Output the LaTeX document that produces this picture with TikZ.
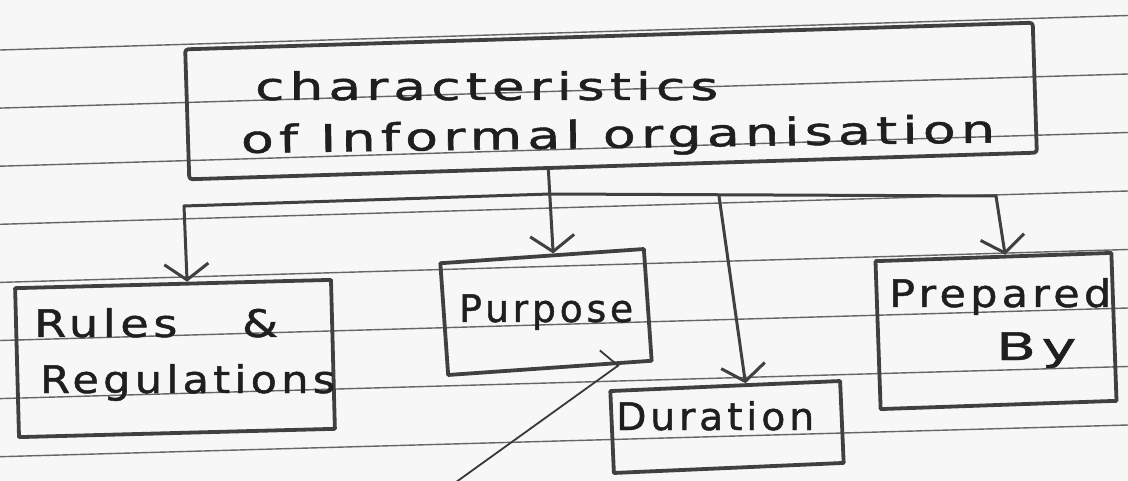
\documentclass[tikz,border=0pt]{standalone}
\usepackage{fontspec}
\usepackage{graphicx}
\usetikzlibrary{arrows.meta,calc}
\newfontfamily\handfont[LetterSpace=10,FakeBold=1.2]{DejaVu Sans}
% stretch a handwritten line to a given width, keeping its height
\newcommand{\hw}[2]{\resizebox{#1}{\height}{#2}}

\begin{document}
\begin{tikzpicture}[x=1pt,y=-1pt,
  rule/.style={draw=black!60, line width=1.4pt},
  box/.style={draw=black!75, line width=3.8pt, rectangle, inner sep=0pt, line join=round},
  hand/.style={anchor=base west, inner sep=0pt, text=black!88,
    font=\handfont\fontsize{38}{42}\selectfont},
  link/.style={draw=black!75, line width=3pt, line cap=round, line join=round},
  conn/.style={link, -{Straight Barb[length=16pt,width=44pt]}},
  pointer/.style={draw=black!78, line width=1.8pt, line cap=round,
    -{Straight Barb[harpoon,length=6pt,width=46pt]}}
]
% page of ruled paper
\fill[black!3] (0,0) rectangle (1128,481);
\useasboundingbox (0,0) rectangle (1128,481);
\begin{scope}
  \clip (0,0) rectangle (1128,481);
  \foreach \k in {0,...,7}
    \draw[rule] (0,{50+58.1*\k}) -- (1128,{15.5+58.5*\k});
\end{scope}

% boxes
\node[box, minimum width=848pt, minimum height=130pt, rotate=1.8,
  rounded corners=3pt] (title) at (611,101) {};
\node[box, minimum width=316pt, minimum height=149pt, rotate=1.5] (rules) at (175,358.5) {};
\node[box, minimum width=204pt, minimum height=112pt, rotate=4] (purpose) at (546,312) {};
\node[box, minimum width=230pt, minimum height=82pt, rotate=2.5] (duration) at (727,427) {};
\node[box, minimum width=236pt, minimum height=148pt, rotate=2] (prepared) at (996,331) {};

% handwritten labels
\node[hand] (titleA) at (255,100) {\hw{463pt}{characteristics}};
\node[hand, rotate=0.8] (titleB) at (241,153) {\hw{754pt}{of Informal organisation}};
\node[hand] (rulesA) at (34,337) {\hw{244pt}{Rules\hspace{1.4em}\&}};
\node[hand] (rulesB) at (40,393) {\hw{295pt}{Regulations}};
\node[hand] (purposeT) at (459,322) {\hw{174pt}{Purpose}};
\node[hand] (durationT) at (616,430) {\hw{198pt}{Duration}};
\node[hand] (preparedA) at (889,307) {\hw{222pt}{Prepared}};
\node[hand] (preparedB) at (996,360) {\hw{80pt}{By}};

% branching bar and connectors
\coordinate (barL) at (184,206);
\coordinate (barK) at (550,194);
\coordinate (barD) at (719,196);
\coordinate (barR) at (996,196);
\coordinate (ptr) at (452,485);

\draw[conn] (barK) -- (barL) -- ($(rules.north west)!0.544!(rules.north east)$);
\draw[conn] (barK) -- (barR) -- ($(prepared.north west)!0.549!(prepared.north east)$);
\draw[conn] (barD) -- ($(duration.north west)!0.587!(duration.north east)$);
\draw[conn] ($(title.south west)!0.424!(title.south east)$) -- ($(purpose.north west)!0.554!(purpose.north east)$);
\draw[pointer] (ptr) -- ($(purpose.south west)!0.833!(purpose.south east)$);
\end{tikzpicture}
\end{document}
